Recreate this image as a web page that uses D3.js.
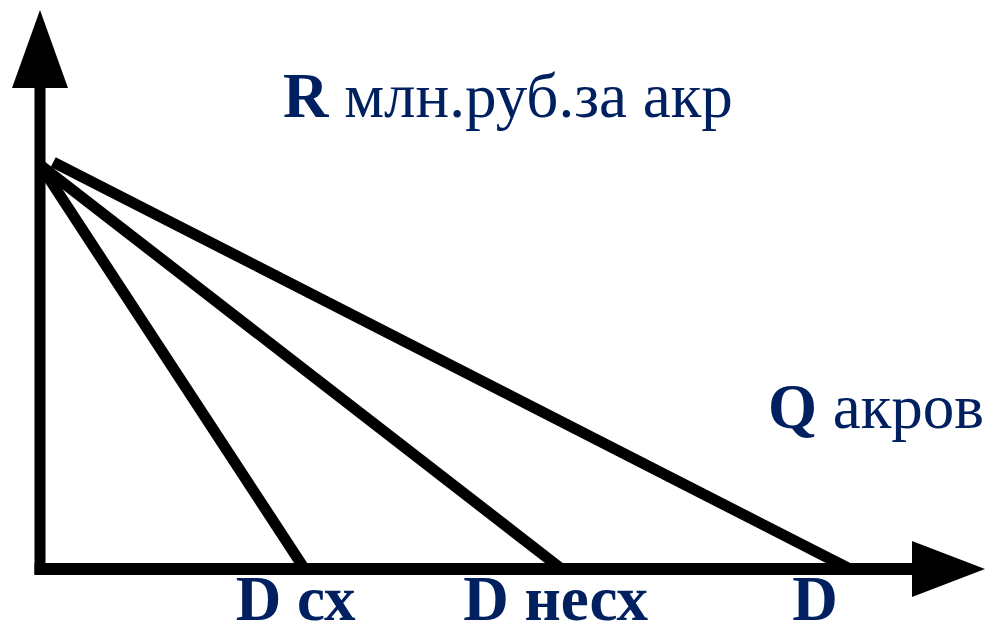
<!DOCTYPE html>
<html>
<head>
<meta charset="utf-8">
<script src="https://cdn.jsdelivr.net/npm/d3@7"></script>
<style>
  body { margin: 0; background: #fff; }
  text { font-family: "Liberation Serif", "Times New Roman", serif; fill: #002060; }
</style>
</head>
<body>
<svg id="chart" width="988" height="628"></svg>
<script>
// demand lines: start (q0, r0) -> end on Q axis (q1, 0)
var lineNames = ["D сх", "D несх", "D"];
var startQ = [0, 0, 1.4];
var startR = [72.3, 72.3, 72.8];
var endQ = [28, 55.2, 85.7];

// axis labels
var yTitle = ["R", " млн.руб.за акр"];
var xTitle = ["Q", " акров"];

var svg = d3.select("#chart");

var x = d3.scaleLinear().domain([0, 100]).range([40, 985]);
var y = d3.scaleLinear().domain([0, 100]).range([569, 10]);

var black = "#000";
var sw = 11;
var fs = 63;

// axes with arrow heads
svg.append("line")
    .attr("x1", x(0)).attr("y1", y(0) + sw / 2)
    .attr("x2", x(0)).attr("y2", y(100) + 70)
    .attr("stroke", black).attr("stroke-width", sw);
svg.append("path")
    .attr("d", `M ${x(0) - 28} ${y(100) + 78} L ${x(0)} ${y(100)} L ${x(0) + 28} ${y(100) + 78} Z`)
    .attr("fill", black);

svg.append("line")
    .attr("x1", x(0) - sw / 2).attr("y1", y(0))
    .attr("x2", x(100) - 70).attr("y2", y(0))
    .attr("stroke", black).attr("stroke-width", sw + 1);
svg.append("path")
    .attr("d", `M ${x(100) - 73} ${y(0) - 28} L ${x(100)} ${y(0)} L ${x(100) - 73} ${y(0) + 28} Z`)
    .attr("fill", black);

// demand lines
svg.append("g").selectAll("line")
    .data(lineNames)
    .enter().append("line")
    .attr("x1", (d, i) => x(startQ[i]))
    .attr("y1", (d, i) => y(startR[i]))
    .attr("x2", (d, i) => x(endQ[i]))
    .attr("y2", y(0))
    .attr("stroke", black)
    .attr("stroke-width", sw);

// line labels under Q axis
var labelDx = [-9, -6, -12];
svg.append("g").selectAll("text")
    .data(lineNames)
    .enter().append("text")
    .attr("x", (d, i) => x(endQ[i]))
    .attr("y", 620)
    .attr("text-anchor", (d, i) => i == 2 ? "end" : "middle")
    .attr("dx", (d, i) => labelDx[i])
    .attr("font-size", fs)
    .attr("font-weight", "bold")
    .text(d => d);

// axis titles
function title(parts, tx, ty) {
    var t = svg.append("text").attr("x", tx).attr("y", ty).attr("font-size", fs);
    t.append("tspan").attr("font-weight", "bold").text(parts[0]);
    t.append("tspan").text(parts[1]);
}
title(yTitle, 283, 117);
title(xTitle, 768, 428);
</script>
</body>
</html>
